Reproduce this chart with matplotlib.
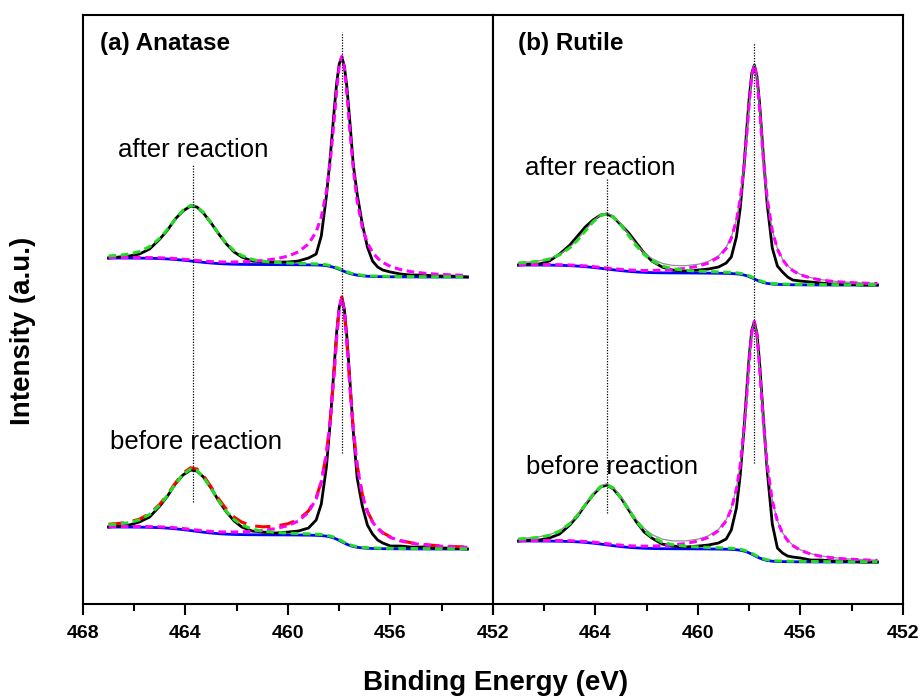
import numpy as np
import matplotlib.pyplot as plt
from matplotlib.ticker import MultipleLocator

plt.rcParams['font.family'] = ['Liberation Sans', 'DejaVu Sans']

# binding energy grid (eV) of the Ti 2p spectra
energy = [467.0, 466.6, 466.2, 465.8, 465.4, 465.0, 464.7, 464.4, 464.1, 463.8,
          463.55, 463.3, 463.0, 462.7, 462.4, 462.1, 461.8, 461.4, 461.0, 460.5,
          460.0, 459.6, 459.2, 458.9, 458.7, 458.5, 458.35, 458.2, 458.1, 458.0,
          457.9, 457.8, 457.7, 457.6, 457.45, 457.3, 457.1, 456.9, 456.7, 456.5,
          456.3, 456.0, 455.6, 455.2, 454.7, 454.2, 453.6, 453.0]

# measured intensity (a.u.), "after" traces stacked above "before"
anatase_after = [346, 347, 348, 350, 355, 365, 374, 385, 393, 398, 397, 391, 381, 370, 360, 352,
                 347, 343, 342, 342, 342, 343, 346, 350, 368, 408, 447, 493, 521, 540, 547, 538,
                 517, 487, 439, 410, 380, 357, 343, 337, 334, 332, 330, 329, 329, 328, 328, 327]
anatase_before = [77, 78, 79, 82, 87, 98, 108, 120, 129, 134, 133, 127, 116, 103, 92, 83,
                  77, 73, 72, 71, 72, 73, 76, 84, 100, 137, 182, 237, 272, 297, 306, 295,
                  267, 230, 172, 126, 98, 79, 70, 64, 61, 58, 58, 57, 57, 56, 56, 55]
rutile_after = [339, 340, 340, 343, 350, 359, 368, 377, 384, 389, 390, 387, 379, 371, 361, 351,
                343, 337, 334, 333, 334, 335, 337, 341, 347, 367, 396, 439, 474, 506, 531, 539,
                528, 502, 449, 400, 356, 338, 332, 327, 324, 323, 322, 321, 320, 320, 319, 319]
rutile_before = [63, 64, 64, 66, 70, 79, 88, 99, 109, 117, 119, 115, 106, 94, 82, 72,
                 66, 60, 58, 57, 58, 59, 61, 65, 74, 96, 129, 177, 213, 248, 274, 282,
                 271, 243, 187, 134, 80, 56, 51, 48, 47, 46, 44, 44, 43, 43, 42, 42]

# fitted Ti 2p1/2 and Ti 2p3/2 components: (position eV, height, FWHM eV, Lorentzian fraction)
anatase_after_fit = [(463.7, 56, 2.1, 0.4), (457.9, 214, 0.88, 0.95)]
anatase_before_fit = [(463.7, 62, 2.1, 0.4), (457.9, 244, 0.86, 0.95)]
rutile_after_fit = [(463.55, 55, 2.2, 0.4), (457.8, 214, 0.82, 0.95)]
rutile_before_fit = [(463.55, 60, 2.1, 0.4), (457.8, 234, 0.84, 0.95)]

panel_titles = ['(a) Anatase', '(b) Rutile']
peak_marks = [[463.7, 457.9], [463.55, 457.8]]


def pseudo_voigt(x, pos, height, fwhm, eta):
    gauss = np.exp(-4 * np.log(2) * ((x - pos) / fwhm) ** 2)
    lorentz = 1 / (1 + ((x - pos) / (fwhm / 2)) ** 2)
    return height * (eta * lorentz + (1 - eta) * gauss)


def shirley(x, y, n_iter=30):
    """Iterative Shirley background, x in descending binding energy."""
    lo, hi = y[-1], y[0]
    bg = np.full_like(y, lo)
    for _ in range(n_iter):
        d = y - bg
        seg = 0.5 * (d[1:] + d[:-1]) * (x[:-1] - x[1:])
        cum = np.concatenate([np.cumsum(seg[::-1])[::-1], [0.0]])
        bg = lo + (hi - lo) * cum / cum[0]
    return bg


def draw_spectrum(ax, y, fit, envelope_style):
    x = np.array(energy)
    y = np.array(y, dtype=float)
    bg = shirley(x, y)
    p12 = pseudo_voigt(x, *fit[0])
    p32 = pseudo_voigt(x, *fit[1])
    ax.plot(x, bg, color='#0000ff', lw=2.0, zorder=2)
    ax.plot(x, y, color='black', lw=2.0, zorder=3)
    if envelope_style == 'red':
        ax.plot(x, bg + p12 + p32, color='#ff0000', lw=2.2, dashes=(5, 3), zorder=4)
    elif envelope_style == 'gray':
        ax.plot(x, bg + p12 + p32, color='#909090', lw=0.9, zorder=4)
    ax.plot(x, bg + p32, color='#ff00ff', lw=2.2, dashes=(2.5, 1.5), zorder=5)
    ax.plot(x, bg + p12, color='#22dd22', lw=2.2, dashes=(2.5, 1.5), zorder=5)


fig = plt.figure(figsize=(9.23, 7.0), dpi=100)
ax_a = fig.add_axes([0.0899, 0.1371, 0.4442, 0.8414])
ax_b = fig.add_axes([0.5341, 0.1371, 0.4442, 0.8414])

draw_spectrum(ax_a, anatase_after, anatase_after_fit, None)
draw_spectrum(ax_a, anatase_before, anatase_before_fit, 'red')
draw_spectrum(ax_b, rutile_after, rutile_after_fit, 'gray')
draw_spectrum(ax_b, rutile_before, rutile_before_fit, 'gray')

# dotted guides through the peak maxima
guide_spans = [[(102, 439), (151, 572)], [(91, 426), (141, 561)]]
for ax, marks, spans in zip([ax_a, ax_b], peak_marks, guide_spans):
    for pos, (y0, y1) in zip(marks, spans):
        ax.plot([pos, pos], [y0, y1], color='black', lw=0.9, ls=(0, (1, 1.2)), zorder=6)

ax_a.text(466.65, 454, 'after reaction', fontsize=18.5, va='center', zorder=7)
ax_a.text(466.95, 162, 'before reaction', fontsize=18.5, va='center', zorder=7)
ax_b.text(466.75, 436, 'after reaction', fontsize=18.5, va='center', zorder=7)
ax_b.text(466.7, 137, 'before reaction', fontsize=18.5, va='center', zorder=7)

tick_font = {'family': ['Liberation Sans Narrow', 'Liberation Sans'], 'weight': 'bold', 'size': 14}
for ax, title, tx in zip([ax_a, ax_b], panel_titles, [0.041, 0.061]):
    ax.set_xlim(468, 452)
    ax.set_ylim(0, 589)
    ax.set_yticks([])
    ax.xaxis.set_major_locator(MultipleLocator(4))
    ax.xaxis.set_minor_locator(MultipleLocator(2))
    ax.tick_params(axis='x', which='major', direction='out', length=8, width=1.5, pad=7)
    ax.tick_params(axis='x', which='minor', direction='out', length=5, width=1.5)
    for sp in ax.spines.values():
        sp.set_linewidth(1.5)
    ax.text(tx, 0.951, title, transform=ax.transAxes, fontsize=17.5,
            fontweight='bold', va='center', ha='left')

ticks = [468, 464, 460, 456, 452]
ax_a.set_xticks(ticks)
ax_a.set_xticklabels([str(t) for t in ticks], fontdict=tick_font)
ax_b.set_xticks(ticks)
ax_b.set_xticklabels([''] + [str(t) for t in ticks[1:]], fontdict=tick_font)

fig.text(0.025, 0.527, 'Intensity (a.u.)', rotation=90, fontsize=20,
         fontweight='bold', ha='center', va='center')
fig.text(0.537, 0.024, 'Binding Energy (eV)', fontsize=20,
         fontweight='bold', ha='center', va='center')

fig.savefig('out.png', dpi=100)
